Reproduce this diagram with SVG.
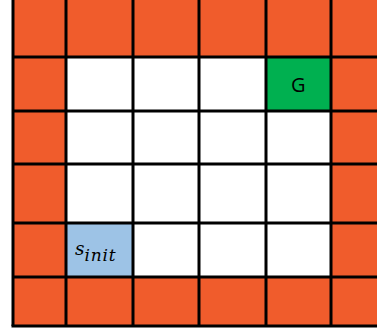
<svg xmlns="http://www.w3.org/2000/svg" width="377" height="331" viewBox="0 0 377 331">
<style>
.wall{fill:#F05C2C}
.free{fill:#FFFFFF}
.goal{fill:#00B050}
.start{fill:#9DC3E6}
.grid{stroke:#000;stroke-width:3;fill:none}
.lbl{font-family:"Open Sans","Liberation Sans",sans-serif;font-size:20px;fill:#000}
.math{font-family:"DejaVu Serif","Liberation Serif",serif;font-style:italic;fill:#000}
</style>
<rect width="377" height="331" fill="#fff"/>
<rect class="wall" x="13" y="0" width="364" height="326"/>
<rect class="free" x="66" y="57" width="265" height="220"/>
<g id="goal"><rect class="goal" x="266" y="57" width="65" height="54"/><text class="lbl" x="298.3" y="92" text-anchor="middle">G</text></g>
<g id="start"><rect class="start" x="66" y="223" width="67" height="54"/><text class="math" x="75" y="255" font-size="18.5">s</text><text class="math" x="84.5" y="260.5" font-size="17" textLength="31" lengthAdjust="spacing">init</text></g>
<g id="gridlines" class="grid">
<path d="M13 0V326M66 0V326M133 0V326M199 0V326M266 0V326M331 0V326"/>
<path d="M13 57H377M13 111H377M13 164H377M13 223H377M13 277H377M11.5 326H377"/>
</g>
</svg>
